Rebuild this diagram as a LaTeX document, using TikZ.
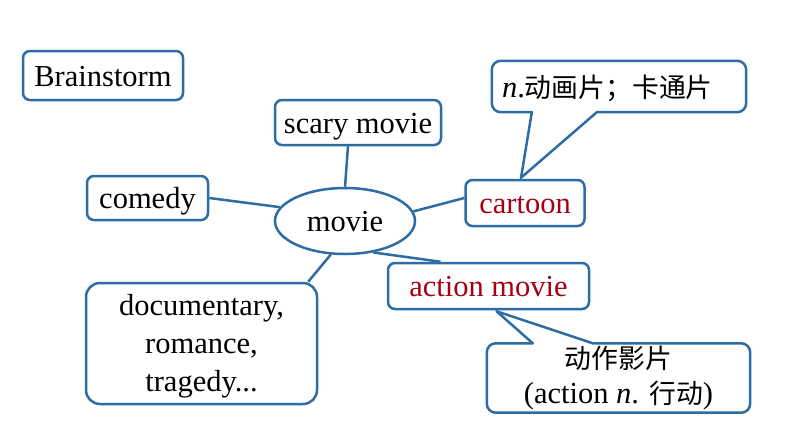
\documentclass[tikz,border=0pt]{standalone}
\usepackage{fontspec}
\setmainfont{Liberation Serif}
\newfontfamily\cjk[Scale=0.88]{Noto Sans CJK SC}
\usetikzlibrary{calc,shapes.geometric}
\definecolor{edgeblue}{RGB}{46,108,164}
\definecolor{wordred}{RGB}{165,0,20}
\begin{document}
\begin{tikzpicture}[x=1pt,y=-1pt,
  every node/.style={font=\fontsize{30.5}{37}\selectfont, inner sep=0pt},
  oneline/.style={text height=28pt, text depth=7pt},
  wordbox/.style={draw=edgeblue, line width=2.5pt, rounded corners=7pt, fill=white, oneline},
  link/.style={draw=edgeblue, line width=2.5pt, line join=round},
  redword/.style={text=wordred}]
\useasboundingbox[fill=white] (0,0) rectangle (794,447);

\node[draw=edgeblue, line width=2.5pt, ellipse, minimum width=140pt, minimum height=66pt, oneline] (movie) at (345,221) {movie};

\node[wordbox, minimum width=160pt, minimum height=49pt] (brain) at (103,75.5) {Brainstorm};
\node[wordbox, minimum width=166pt, minimum height=45pt] (scary) at (358,122.5) {scary movie};
\node[wordbox, minimum width=121pt, minimum height=44pt] (comedy) at (147.5,198) {comedy};
\node[wordbox, redword, minimum width=119pt, minimum height=46pt] (cartoon) at (525,203) {cartoon};
\node[wordbox, redword, minimum width=201pt, minimum height=46pt] (action) at (488.5,286) {action movie};
\node[draw=edgeblue, line width=2.5pt, fill=white, rounded corners=14pt, minimum width=231pt, minimum height=121pt,
      align=center, font=\fontsize{30.5}{38}\selectfont] (docu) at (201.5,343.5)
      {\rule{0pt}{27pt}documentary,\\romance,\\tragedy...};

\draw[link] ($(scary.south)+(-10,0)$) -- (movie.north);
\draw[link] (comedy.east) -- (movie.168);
\draw[link] (movie.8) -- ($(cartoon.west)+(0,-5)$);
\draw[link] (movie.-48) -- ($(action.north)+(-48,0)$);
\draw[link] (movie.-113) -- ($(docu.north east)+(-10,0)$);

% callout for cartoon
\node[minimum width=254pt, minimum height=51pt, text width=234pt, inner xsep=10pt, align=left, oneline] (noteA) at (619,86.5)
  {\textit{n}.{\cjk 动画片；卡通片}};
\draw[link] ($(noteA.south west)+(40,0)$) [rounded corners=9pt] -- (noteA.south west) -- (noteA.north west)
  -- (noteA.north east) -- (noteA.south east) [sharp corners] -- ($(noteA.south west)+(105,0)$)
  -- ($(cartoon.north)+(-4,-1)$) -- cycle;

% callout for action movie
\node[minimum width=263pt, minimum height=69pt, align=center, font=\fontsize{30.5}{35}\selectfont] (noteB) at (618.5,378)
  {{\cjk 动作影片}\\(action \textit{n}. {\cjk 行动})};
\draw[link] ($(noteB.north west)+(106,0)$) [rounded corners=9pt] -- (noteB.north east) -- (noteB.south east)
  -- (noteB.south west) -- (noteB.north west) [sharp corners] -- ($(noteB.north west)+(46,0)$)
  -- ($(action.south)+(8,1)$) -- cycle;
\end{tikzpicture}
\end{document}
